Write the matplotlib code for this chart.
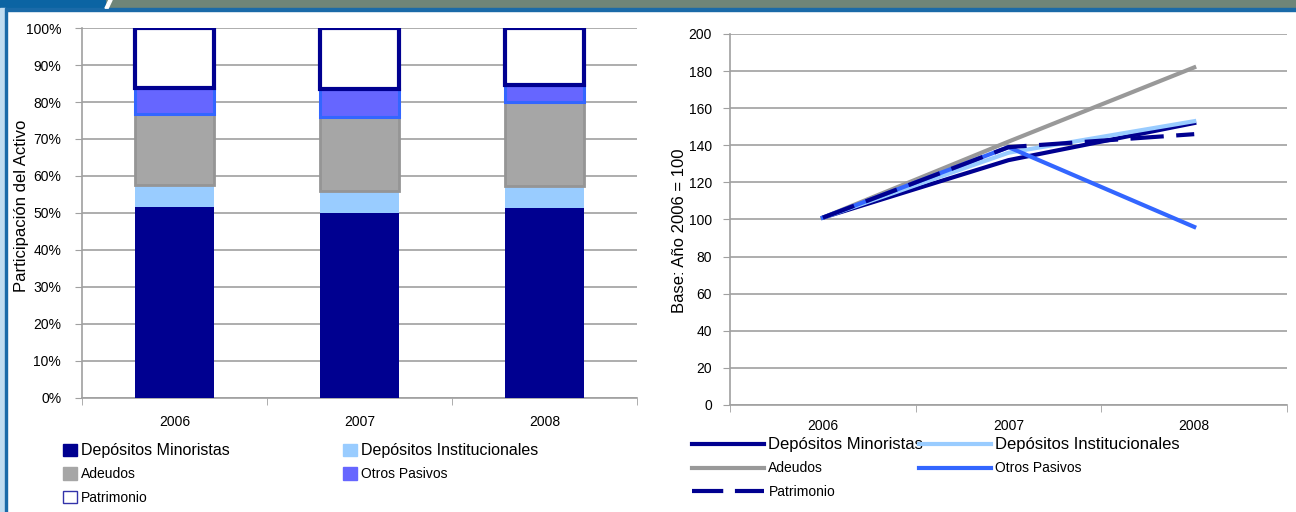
import numpy as np
import matplotlib
matplotlib.use("Agg")
import matplotlib.pyplot as plt
from matplotlib.patches import Rectangle, Polygon
from matplotlib.lines import Line2D

plt.rcParams['font.family'] = ['Liberation Sans', 'DejaVu Sans']

# data
years = ['2006', '2007', '2008']
series = ['Depósitos Minoristas', 'Depósitos Institucionales', 'Adeudos',
          'Otros Pasivos', 'Patrimonio']

# share of assets (%)
minoristas_pct = [51.6, 50.0, 51.4]
institucionales_pct = [6.0, 6.0, 6.0]
adeudos_pct = [19.1, 20.0, 22.5]
otros_pct = [7.2, 7.5, 4.7]
patrimonio_pct = [16.1, 16.5, 15.4]

# index base 2006 = 100
minoristas_idx = [101, 132, 152]
institucionales_idx = [101, 136, 153]
adeudos_idx = [101, 142, 182]
otros_idx = [101, 139, 96]
patrimonio_idx = [101, 139, 146]

navy = '#000090'
lblue = '#99ccff'
gray = '#a6a6a6'
violet = '#6666ff'
blue = '#3366ff'
grid_c = '#a0a0a0'

fig = plt.figure(figsize=(12.96, 5.12), dpi=100)

# frame decoration
fig.patches.append(Rectangle((0, 0.984), 1, 0.016, transform=fig.transFigure,
                             color='#6f8578', zorder=0))
fig.patches.append(Rectangle((0, 0.984), 0.081, 0.016, transform=fig.transFigure,
                             color='#0b64a3', zorder=1))
fig.patches.append(Polygon([(0.081, 0.984), (0.0835, 0.984), (0.0865, 1.0), (0.084, 1.0)],
                           closed=True, transform=fig.transFigure, color='white', zorder=2))
fig.patches.append(Rectangle((0, 0.978), 1, 0.006, transform=fig.transFigure,
                             color='#1a6aa8', zorder=1))
fig.patches.append(Rectangle((0, 0), 0.004, 0.984, transform=fig.transFigure,
                             color='#c0dcf0', zorder=1))
fig.patches.append(Rectangle((0.004, 0), 0.0016, 0.984, transform=fig.transFigure,
                             color='#1a6aa8', zorder=1))

# ---------------- left: stacked bars ----------------
ax1 = fig.add_axes([0.0633, 0.2227, 0.4282, 0.7226])
x = np.arange(len(years))
w = 0.43
b = np.zeros(3)
ax1.bar(x, minoristas_pct, w, bottom=b, color=navy, zorder=3)
b += minoristas_pct
ax1.bar(x, institucionales_pct, w, bottom=b, color=lblue, zorder=3)
b += institucionales_pct
ax1.bar(x, adeudos_pct, w, bottom=b, color=gray, edgecolor='#959595', linewidth=2, zorder=3)
b += adeudos_pct
ax1.bar(x, otros_pct, w, bottom=b, color=violet, edgecolor=blue, linewidth=2.2, zorder=3)
b += otros_pct
ax1.bar(x, patrimonio_pct, w, bottom=b, color='white', edgecolor=navy, linewidth=3, zorder=3)

ax1.set_xlim(-0.5, 2.5)
ax1.set_ylim(0, 100)
ax1.set_yticks(np.arange(0, 101, 10))
ax1.set_yticklabels([f'{v}%' for v in range(0, 101, 10)])
ax1.set_xticks(x)
ax1.set_xticklabels(years)
ax1.set_xticks([-0.5, 0.5, 1.5, 2.5], minor=True)
ax1.tick_params(axis='x', which='major', length=0, pad=12, labelsize=10)
ax1.tick_params(axis='x', which='minor', length=5, color=grid_c, direction='out')
ax1.tick_params(axis='y', length=5, color=grid_c, pad=10, labelsize=10)
ax1.yaxis.grid(True, color=grid_c, linewidth=1.2, zorder=0)
ax1.set_axisbelow(True)
for s in ['top', 'right']:
    ax1.spines[s].set_visible(False)
for s in ['left', 'bottom']:
    ax1.spines[s].set_color(grid_c)
    ax1.spines[s].set_linewidth(1.2)
ax1.set_ylabel('Participación del Activo', fontsize=12)
ax1.yaxis.set_label_coords(-0.095, 0.52)

# ---------------- right: index lines ----------------
ax2 = fig.add_axes([0.5633, 0.2090, 0.4298, 0.7246])
ax2.plot(x, minoristas_idx, color=navy, lw=3, zorder=3)
ax2.plot(x, institucionales_idx, color=lblue, lw=3, zorder=3)
ax2.plot(x, adeudos_idx, color='#999999', lw=3, zorder=3)
ax2.plot(x, otros_idx, color=blue, lw=3, zorder=3)
ax2.plot(x, patrimonio_idx, color=navy, lw=3, dashes=(8, 3), zorder=4)
ax2.set_xlim(-0.5, 2.5)
ax2.set_ylim(0, 200)
ax2.set_yticks(np.arange(0, 201, 20))
ax2.set_xticks(x)
ax2.set_xticklabels(years)
ax2.set_xticks([-0.5, 0.5, 1.5, 2.5], minor=True)
ax2.tick_params(axis='x', which='major', length=0, pad=10, labelsize=10)
ax2.tick_params(axis='x', which='minor', length=5, color=grid_c, direction='out')
ax2.tick_params(axis='y', length=5, color=grid_c, pad=8, labelsize=10)
ax2.yaxis.grid(True, color=grid_c, linewidth=1.2, zorder=0)
ax2.set_axisbelow(True)
for s in ['top', 'right']:
    ax2.spines[s].set_visible(False)
for s in ['left', 'bottom']:
    ax2.spines[s].set_color(grid_c)
    ax2.spines[s].set_linewidth(1.2)
ax2.set_ylabel('Base: Año 2006 = 100', fontsize=12)
ax2.yaxis.set_label_coords(-0.078, 0.47)

# ---------------- legends ----------------
def sq(fc, ec=None):
    return Rectangle((0, 0), 1, 1, facecolor=fc, edgecolor=ec or fc, linewidth=1)

leg_kw = dict(frameon=False, loc='upper left', handletextpad=0.3,
              labelspacing=0.68, borderpad=0, borderaxespad=0)

bar_h1 = [sq(navy), sq(gray), sq('white', '#3333aa')]
bar_l1 = [series[0], series[2], series[4]]
bar_h2 = [sq(lblue), sq(violet)]
bar_l2 = [series[1], series[3]]
lg = fig.legend(bar_h1, bar_l1, bbox_to_anchor=(63 / 1296, 1 - 443 / 512),
                fontsize=10, handlelength=1.0, handleheight=1.0, **leg_kw)
lg.get_texts()[0].set_fontsize(11.5)
lg = fig.legend(bar_h2, bar_l2, bbox_to_anchor=(343 / 1296, 1 - 443 / 512),
                fontsize=10, handlelength=1.0, handleheight=1.0, **leg_kw)
lg.get_texts()[0].set_fontsize(11.5)

line_h1 = [Line2D([], [], color=navy, lw=3),
           Line2D([], [], color='#999999', lw=3),
           Line2D([], [], color=navy, lw=3, dashes=(7.5, 2.8))]
line_l1 = [series[0], series[2], series[4]]
line_h2 = [Line2D([], [], color=lblue, lw=3),
           Line2D([], [], color=blue, lw=3)]
line_l2 = [series[1], series[3]]
lg = fig.legend(line_h1, line_l1, bbox_to_anchor=(692 / 1296, 1 - 437 / 512),
                fontsize=10, handlelength=5.2, **leg_kw)
lg.get_texts()[0].set_fontsize(12)
lg = fig.legend(line_h2, line_l2, bbox_to_anchor=(919 / 1296, 1 - 437 / 512),
                fontsize=10, handlelength=5.2, **leg_kw)
lg.get_texts()[0].set_fontsize(12)

fig.savefig('out.png', dpi=100)
